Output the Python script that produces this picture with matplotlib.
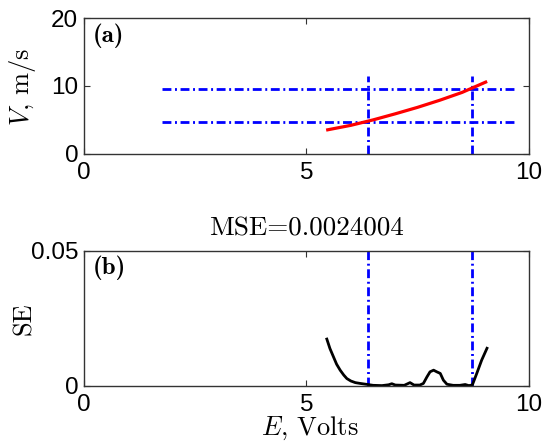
import matplotlib
matplotlib.use("Agg")
import matplotlib.pyplot as plt
from matplotlib.ticker import FormatStrFormatter

plt.rcParams["mathtext.fontset"] = "cm"

# calibration curve V(E)
fit_E = [5.48, 6.0, 6.5, 7.0, 7.5, 8.0, 8.5, 9.03]
fit_V = [3.54, 4.2, 5.0, 5.9, 6.85, 7.9, 9.05, 10.57]

# operating window
E_bounds = [6.38, 8.73]
V_bounds = [4.65, 9.55]
h_span = [1.75, 9.7]
v_span = [0, 11.5]

# squared error along the curve
se_E = [5.46, 5.53, 5.61, 5.68, 5.76, 5.84, 5.91, 6.0, 6.1, 6.21, 6.38, 6.5,
        6.7, 6.85, 6.92, 7.0, 7.2, 7.33, 7.42, 7.55, 7.63, 7.71, 7.78, 7.86,
        7.93, 8.01, 8.08, 8.16, 8.3, 8.45, 8.57, 8.65, 8.73, 8.83, 8.94, 9.06]
se_val = [0.0173, 0.0138, 0.0107, 0.0080, 0.0058, 0.0040, 0.0027, 0.0018,
          0.0012, 0.0009, 0.0005, 0.0002, 0.0001, 0.0004, 0.0008, 0.0003,
          0.0002, 0.0012, 0.0003, 0.0003, 0.0009, 0.0033, 0.0052, 0.0058,
          0.0052, 0.0046, 0.0021, 0.0006, 0.0002, 0.0002, 0.0005, 0.0001,
          0.0003, 0.0046, 0.0095, 0.0139]
mse = 0.0024004

SERIF = "cmr10"
BOLD = "cmb10"
SANS = "Liberation Sans"
DASHDOT = (0, (3.2, 1.3, 0.7, 1.3))
BLUE = "#0000ff"


def style_axes(ax, yticks, ylim):
    ax.set_xlim(0, 10)
    ax.set_ylim(*ylim)
    ax.set_xticks([0, 5, 10])
    ax.set_yticks(yticks)
    ax.yaxis.set_major_formatter(FormatStrFormatter("%g"))
    ax.tick_params(direction="in", length=4, width=0.8, top=True, right=True,
                   labelsize=17.5, colors="#333333", labelcolor="black")
    ax.tick_params(axis="x", pad=6)
    ax.tick_params(axis="y", pad=4)
    for lbl in ax.get_xticklabels() + ax.get_yticklabels():
        lbl.set_family(SANS)
    for s in ax.spines.values():
        s.set_color("#333333")
        s.set_linewidth(1.0)


fig = plt.figure(figsize=(5.52, 4.42), dpi=100)
ax1 = fig.add_axes([0.152, 0.652, 0.806, 0.307])
ax2 = fig.add_axes([0.152, 0.127, 0.806, 0.306])

# (a) V vs E with the window lines
for v in V_bounds:
    ax1.plot(h_span, [v, v], color=BLUE, lw=2, ls=DASHDOT)
for e in E_bounds:
    ax1.plot([e, e], v_span, color=BLUE, lw=2, ls=DASHDOT)
ax1.plot(fit_E, fit_V, color="red", lw=2.3)
style_axes(ax1, [0, 10, 20], (0, 20))
ax1.set_ylabel(r"$V$, m/s", family=SERIF, fontsize=19)
ax1.yaxis.set_label_coords(-0.103, 0.49)
ax1.text(0.02, 0.96, "(a)", transform=ax1.transAxes, family=BOLD,
         fontsize=18, va="top")

# (b) squared error
for e in E_bounds:
    ax2.plot([e, e], [0, 0.05], color=BLUE, lw=2, ls=DASHDOT)
ax2.plot(se_E, se_val, color="black", lw=2)
style_axes(ax2, [0, 0.05], (0, 0.05))
ax2.set_ylabel("SE", family=SERIF, fontsize=19)
ax2.yaxis.set_label_coords(-0.107, 0.5)
ax2.set_xlabel(r"$E$, Volts", family=SERIF, fontsize=19)
ax2.xaxis.set_label_coords(0.508, -0.215)
ax2.set_title(f"MSE={mse:.7f}", family=SERIF, fontsize=19.5, pad=11)
ax2.text(0.02, 0.965, "(b)", transform=ax2.transAxes, family=BOLD,
         fontsize=18, va="top")

fig.savefig("out.png", dpi=100)
